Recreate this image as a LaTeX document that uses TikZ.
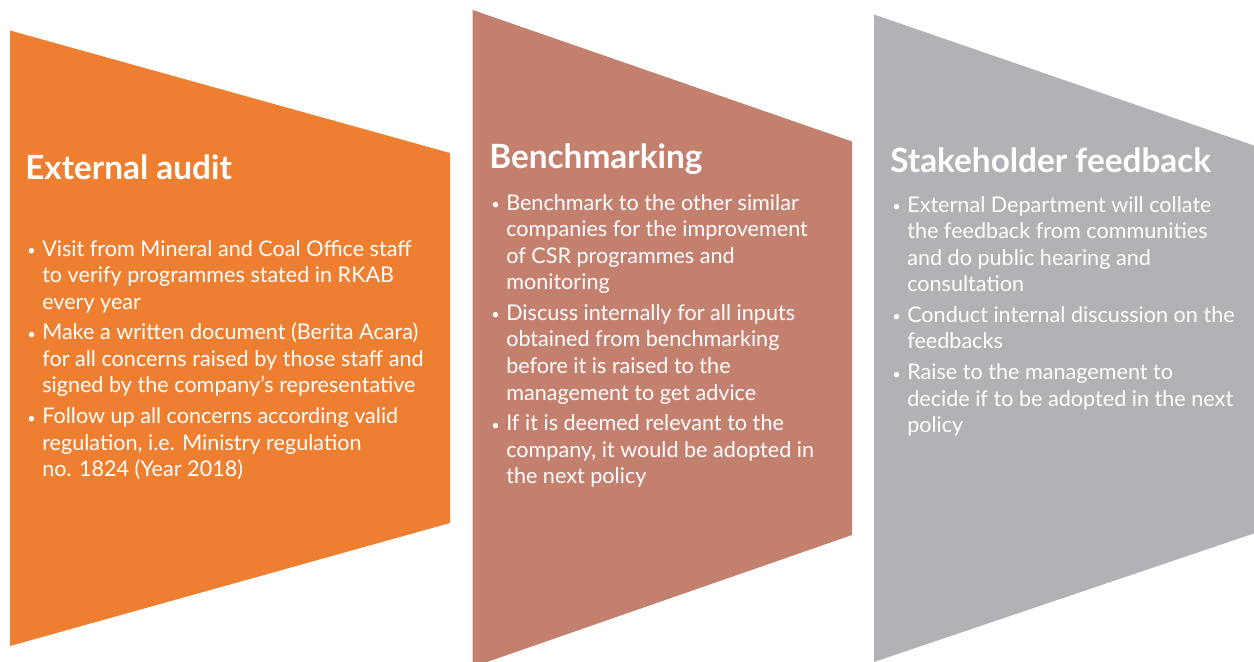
\documentclass[tikz,border=0pt]{standalone}
\usepackage{fontspec}
\setmainfont{Lato}
\definecolor{auditorange}{HTML}{EE7F31}
\definecolor{benchrose}{HTML}{C4806F}
\definecolor{feedgrey}{HTML}{B1B2B6}
% bullet paragraph with hanging indent
\newcommand{\bulletpar}[1]{\hangindent=11.25pt\hangafter=1\noindent\makebox[11.25pt][l]{\raisebox{0.5pt}{\fontsize{11}{11}\selectfont•}}#1\par}
\newcommand{\bulletblock}[2]{\vtop{\hsize=#1\raggedright\parindent=0pt\parskip=3.2pt
  \fontsize{16.2}{19.9}\selectfont #2}}
\begin{document}
\begin{tikzpicture}[x=0.75pt,y=-0.75pt,
  title/.style={anchor=base west,inner sep=0pt,text=white,font=\fontsize{25}{29}\selectfont\bfseries},
  body/.style={anchor=base west,inner sep=0pt,text=white}]
\useasboundingbox (0,0) rectangle (1254,661);
\clip (0,0) rectangle (1254,661);
% chevron panels
\fill[auditorange] (10,30.5) -- (450,153) -- (450,523) -- (10,646) -- cycle;
\fill[benchrose] (472.7,10) -- (852,141.5) -- (852,535) -- (472.7,667) -- cycle;
\fill[feedgrey] (874,14.5) -- (1264,149) -- (1264,530) -- (874,662) -- cycle;
% titles
\node[title] (t1) at (25,179) {External audit};
\node[title] (t2) at (489,168) {Benchmarking};
\node[title] (t3) at (890,172) {Stakeholder feedback};
% bullet lists
\node[body] (b1) at (27,256) {\bulletblock{420pt}{%
\bulletpar{Visit from Mineral and Coal Office staff\newline to verify programmes stated in RKAB\newline every year}
\bulletpar{Make a written document (Berita Acara)\newline for all concerns raised by those staff and\newline signed by the company{\char"27}s representative}
\bulletpar{Follow up all concerns according valid\newline regulation, i.e. Ministry regulation\newline no. 1824 (Year 2018)}}};
\node[body] (b2) at (491,210) {\bulletblock{420pt}{%
\bulletpar{Benchmark to the other similar\newline companies for the improvement\newline of CSR programmes and\newline monitoring}
\bulletpar{Discuss internally for all inputs\newline obtained from benchmarking\newline before it is raised to the\newline management to get advice}
\bulletpar{If it is deemed relevant to the\newline company, it would be adopted in\newline the next policy}}};
\node[body] (b3) at (892,212) {\bulletblock{420pt}{%
\bulletpar{External Department will collate\newline the feedback from communities\newline and do public hearing and\newline consultation}
\bulletpar{Conduct internal discussion on the\newline feedbacks}
\bulletpar{Raise to the management to\newline decide if to be adopted in the next\newline policy}}};
\end{tikzpicture}
\end{document}
